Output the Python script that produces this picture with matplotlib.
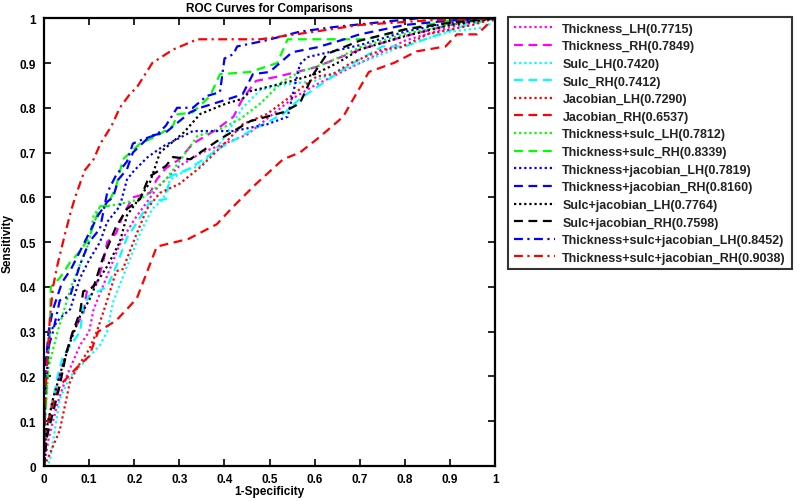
import matplotlib
matplotlib.use("Agg")
import matplotlib.pyplot as plt

plt.rcParams['font.family'] = ['Liberation Sans', 'DejaVu Sans']
plt.rcParams['font.weight'] = 'bold'

labels = ["Thickness_LH(0.7715)", "Thickness_RH(0.7849)", "Sulc_LH(0.7420)", "Sulc_RH(0.7412)",
          "Jacobian_LH(0.7290)", "Jacobian_RH(0.6537)", "Thickness+sulc_LH(0.7812)",
          "Thickness+sulc_RH(0.8339)", "Thickness+jacobian_LH(0.7819)", "Thickness+jacobian_RH(0.8160)",
          "Sulc+jacobian_LH(0.7764)", "Sulc+jacobian_RH(0.7598)",
          "Thickness+sulc+jacobian_LH(0.8452)", "Thickness+sulc+jacobian_RH(0.9038)"]

thick_lh_x = [0,0.01,0.03,0.05,0.08,0.1,0.11,0.13,0.15,0.17,0.2,0.25,0.3,0.35,0.4,0.45,0.5,0.55,0.6,0.7,0.8,0.9,1]
thick_lh_y = [0,0.06,0.14,0.2,0.27,0.30,0.35,0.4,0.45,0.5,0.55,0.62,0.67,0.70,0.72,0.74,0.78,0.82,0.85,0.9,0.95,0.98,1]

thick_rh_x = [0,0.005,0.02,0.04,0.064,0.087,0.095,0.117,0.13,0.14,0.16,0.175,0.197,0.235,0.25,0.27,0.30,0.33,0.38,0.42,0.44,0.47,0.52,0.6,0.7,0.8,0.9,1]
thick_rh_y = [0,0.08,0.15,0.22,0.30,0.34,0.39,0.41,0.45,0.50,0.52,0.56,0.60,0.61,0.64,0.665,0.685,0.72,0.75,0.78,0.82,0.86,0.87,0.89,0.93,0.96,0.985,1]

sulc_lh_x = [0,0.013,0.035,0.058,0.087,0.124,0.14,0.153,0.184,0.213,0.24,0.264,0.28,0.32,0.346,0.383,0.41,0.44,0.48,0.52,0.6,0.7,0.8,0.9,0.98,1]
sulc_lh_y = [0,0.01,0.15,0.2,0.23,0.27,0.3,0.366,0.446,0.52,0.574,0.596,0.64,0.663,0.67,0.71,0.75,0.80,0.84,0.85,0.86,0.9,0.94,0.97,0.98,1]

sulc_rh_x = [0,0.005,0.015,0.03,0.042,0.08,0.087,0.1,0.14,0.16,0.184,0.197,0.235,0.27,0.28,0.32,0.346,0.39,0.457,0.53,0.567,0.605,0.68,0.75,0.80,0.92,1]
sulc_rh_y = [0,0.05,0.12,0.2,0.245,0.30,0.357,0.38,0.40,0.446,0.51,0.53,0.59,0.596,0.647,0.663,0.68,0.71,0.748,0.786,0.82,0.846,0.897,0.937,0.937,0.98,1]

jac_lh_x = [0,0.01,0.035,0.058,0.08,0.1,0.117,0.14,0.16,0.175,0.206,0.228,0.257,0.30,0.346,0.405,0.44,0.494,0.545,0.59,0.605,0.64,0.68,0.75,0.79,0.85,0.95,1]
jac_lh_y = [0,0.02,0.08,0.19,0.23,0.26,0.30,0.37,0.435,0.44,0.52,0.574,0.61,0.63,0.667,0.725,0.763,0.786,0.824,0.86,0.87,0.875,0.90,0.93,0.935,0.964,0.985,1]

jac_rh_x = [0,0.005,0.01,0.02,0.035,0.073,0.10,0.12,0.16,0.19,0.206,0.25,0.27,0.32,0.383,0.42,0.47,0.53,0.567,0.61,0.663,0.70,0.72,0.775,0.826,0.89,0.915,0.96,0.99,1]
jac_rh_y = [0,0.05,0.1,0.14,0.18,0.22,0.245,0.30,0.325,0.357,0.375,0.49,0.495,0.507,0.54,0.58,0.63,0.685,0.70,0.734,0.78,0.845,0.88,0.90,0.926,0.937,0.964,0.964,0.993,1]

ts_lh_x = [0,0.002,0.01,0.03,0.06,0.08,0.1,0.11,0.124,0.168,0.213,0.235,0.27,0.30,0.34,0.39,0.435,0.48,0.53,0.567,0.627,0.70,0.8,0.9,1]
ts_lh_y = [0,0.1,0.22,0.3,0.4,0.45,0.5,0.56,0.578,0.585,0.596,0.61,0.64,0.68,0.737,0.752,0.775,0.81,0.86,0.88,0.90,0.935,0.965,0.985,1]

ts_rh_x = [0,0.002,0.008,0.013,0.015,0.035,0.058,0.08,0.10,0.124,0.14,0.16,0.175,0.213,0.25,0.286,0.295,0.33,0.368,0.39,0.457,0.517,0.54,0.715,0.8,0.9,1]
ts_rh_y = [0,0.1,0.2,0.3,0.40,0.42,0.455,0.48,0.51,0.58,0.58,0.625,0.685,0.72,0.737,0.76,0.785,0.79,0.826,0.875,0.88,0.90,0.953,0.953,0.975,0.995,1]

tj_lh_x = [0,0.002,0.013,0.035,0.058,0.08,0.10,0.124,0.14,0.168,0.184,0.2,0.23,0.264,0.33,0.42,0.494,0.54,0.55,0.567,0.583,0.64,0.70,0.8,0.9,1]
tj_lh_y = [0,0.15,0.30,0.33,0.35,0.42,0.46,0.50,0.545,0.58,0.64,0.66,0.69,0.714,0.748,0.748,0.763,0.78,0.824,0.897,0.913,0.926,0.94,0.97,0.99,1]

tj_rh_x = [0,0.002,0.01,0.02,0.04,0.06,0.08,0.1,0.12,0.14,0.153,0.165,0.184,0.197,0.235,0.27,0.324,0.346,0.41,0.44,0.463,0.50,0.55,0.605,0.656,0.70,0.8,0.9,1]
tj_rh_y = [0,0.2,0.3,0.35,0.41,0.44,0.48,0.52,0.56,0.59,0.6,0.64,0.663,0.70,0.737,0.745,0.79,0.80,0.82,0.83,0.875,0.88,0.924,0.935,0.95,0.964,0.985,0.995,1]

sj_lh_x = [0,0.005,0.02,0.04,0.058,0.08,0.1,0.117,0.14,0.168,0.184,0.213,0.235,0.257,0.31,0.346,0.405,0.44,0.457,0.55,0.6,0.65,0.7,0.8,0.9,1]
sj_lh_y = [0,0.08,0.15,0.22,0.277,0.335,0.37,0.41,0.446,0.5,0.56,0.60,0.634,0.70,0.745,0.786,0.81,0.82,0.837,0.86,0.875,0.90,0.93,0.96,0.985,1]

sj_rh_x = [0,0.005,0.02,0.035,0.05,0.064,0.08,0.087,0.11,0.129,0.16,0.184,0.213,0.228,0.235,0.27,0.286,0.324,0.346,0.39,0.457,0.53,0.567,0.597,0.627,0.70,0.8,0.9,1]
sj_rh_y = [0,0.06,0.12,0.18,0.255,0.30,0.344,0.39,0.40,0.46,0.535,0.574,0.596,0.634,0.647,0.67,0.69,0.685,0.70,0.73,0.77,0.79,0.81,0.875,0.92,0.95,0.975,0.99,1]

tsj_lh_x = [0,0.001,0.005,0.02,0.035,0.058,0.08,0.10,0.124,0.13,0.14,0.16,0.184,0.197,0.22,0.25,0.27,0.295,0.33,0.36,0.39,0.40,0.42,0.428,0.49,0.567,0.64,0.83,1]
tsj_lh_y = [0,0.15,0.25,0.30,0.37,0.38,0.45,0.50,0.53,0.56,0.61,0.65,0.68,0.72,0.73,0.74,0.76,0.80,0.80,0.826,0.835,0.91,0.92,0.937,0.95,0.97,0.98,1.0,1]

tsj_rh_x = [0,0.001,0.005,0.013,0.02,0.03,0.047,0.06,0.069,0.09,0.11,0.125,0.15,0.168,0.19,0.206,0.24,0.286,0.34,0.48,0.6,0.7,0.85,1]
tsj_rh_y = [0,0.1,0.2,0.33,0.4,0.45,0.52,0.57,0.60,0.66,0.685,0.72,0.76,0.80,0.83,0.846,0.90,0.93,0.953,0.953,0.97,0.985,0.995,1]

xs = [thick_lh_x, thick_rh_x, sulc_lh_x, sulc_rh_x, jac_lh_x, jac_rh_x, ts_lh_x, ts_rh_x,
      tj_lh_x, tj_rh_x, sj_lh_x, sj_rh_x, tsj_lh_x, tsj_rh_x]
ys = [thick_lh_y, thick_rh_y, sulc_lh_y, sulc_rh_y, jac_lh_y, jac_rh_y, ts_lh_y, ts_rh_y,
      tj_lh_y, tj_rh_y, sj_lh_y, sj_rh_y, tsj_lh_y, tsj_rh_y]

colors = ['#ff00ff', '#ff00ff', '#00ffff', '#00ffff', '#ff0000', '#ff0000', '#00ff00', '#00ff00',
          '#0000ff', '#0000ff', '#000000', '#000000', '#0000ff', '#ff0000']
dot = (0, (1, 1.3))
dash = (0, (4, 2.5))
dashdot = (0, (4, 2, 1, 2))
styles = [dot, dash, dot, dash, dot, dash, dot, dash, dot, dash, dot, dash, dashdot, dashdot]

fig = plt.figure(figsize=(8, 5.02), dpi=100)
ax = fig.add_axes([0.055, 0.0697, 0.564, 0.892])

for x, y, c, ls, lab in zip(xs, ys, colors, styles, labels):
    ax.plot(x, y, color=c, linestyle=ls, linewidth=1.6, label=lab)

ax.set_xlim(0, 1)
ax.set_ylim(0, 1)
ticks = [0, 0.1, 0.2, 0.3, 0.4, 0.5, 0.6, 0.7, 0.8, 0.9, 1]
ticklabels = ['0', '0.1', '0.2', '0.3', '0.4', '0.5', '0.6', '0.7', '0.8', '0.9', '1']
ax.set_xticks(ticks)
ax.set_xticklabels(ticklabels, fontsize=8.5, fontweight='bold')
ax.set_yticks(ticks)
ax.set_yticklabels(ticklabels, fontsize=8.5, fontweight='bold')
ax.tick_params(axis='x', pad=5)
ax.tick_params(axis='y', pad=6)
ax.tick_params(direction='in', length=5, width=1.2, top=True, right=True)
for s in ax.spines.values():
    s.set_linewidth(1.6)
ax.set_xlabel('1-Specificity', fontsize=8.5, fontweight='bold', labelpad=0)
ax.set_ylabel('Sensitivity', fontsize=8.5, fontweight='bold', labelpad=4)
ax.set_title('ROC Curves for Comparisons', fontsize=8.5, fontweight='bold', pad=5)

leg = fig.legend(loc='upper left', bbox_to_anchor=(0.635, 0.964), bbox_transform=fig.transFigure,
                 fontsize=9.0, frameon=True, fancybox=False, handlelength=3.3, handletextpad=0.6,
                 labelspacing=0.45, borderpad=0.45, borderaxespad=0)
leg.get_frame().set_edgecolor('black')
leg.get_frame().set_linewidth(1.5)
for t in leg.get_texts():
    t.set_fontweight('bold')
    t.set_color('#222222')

fig.savefig('out.png', dpi=100)
